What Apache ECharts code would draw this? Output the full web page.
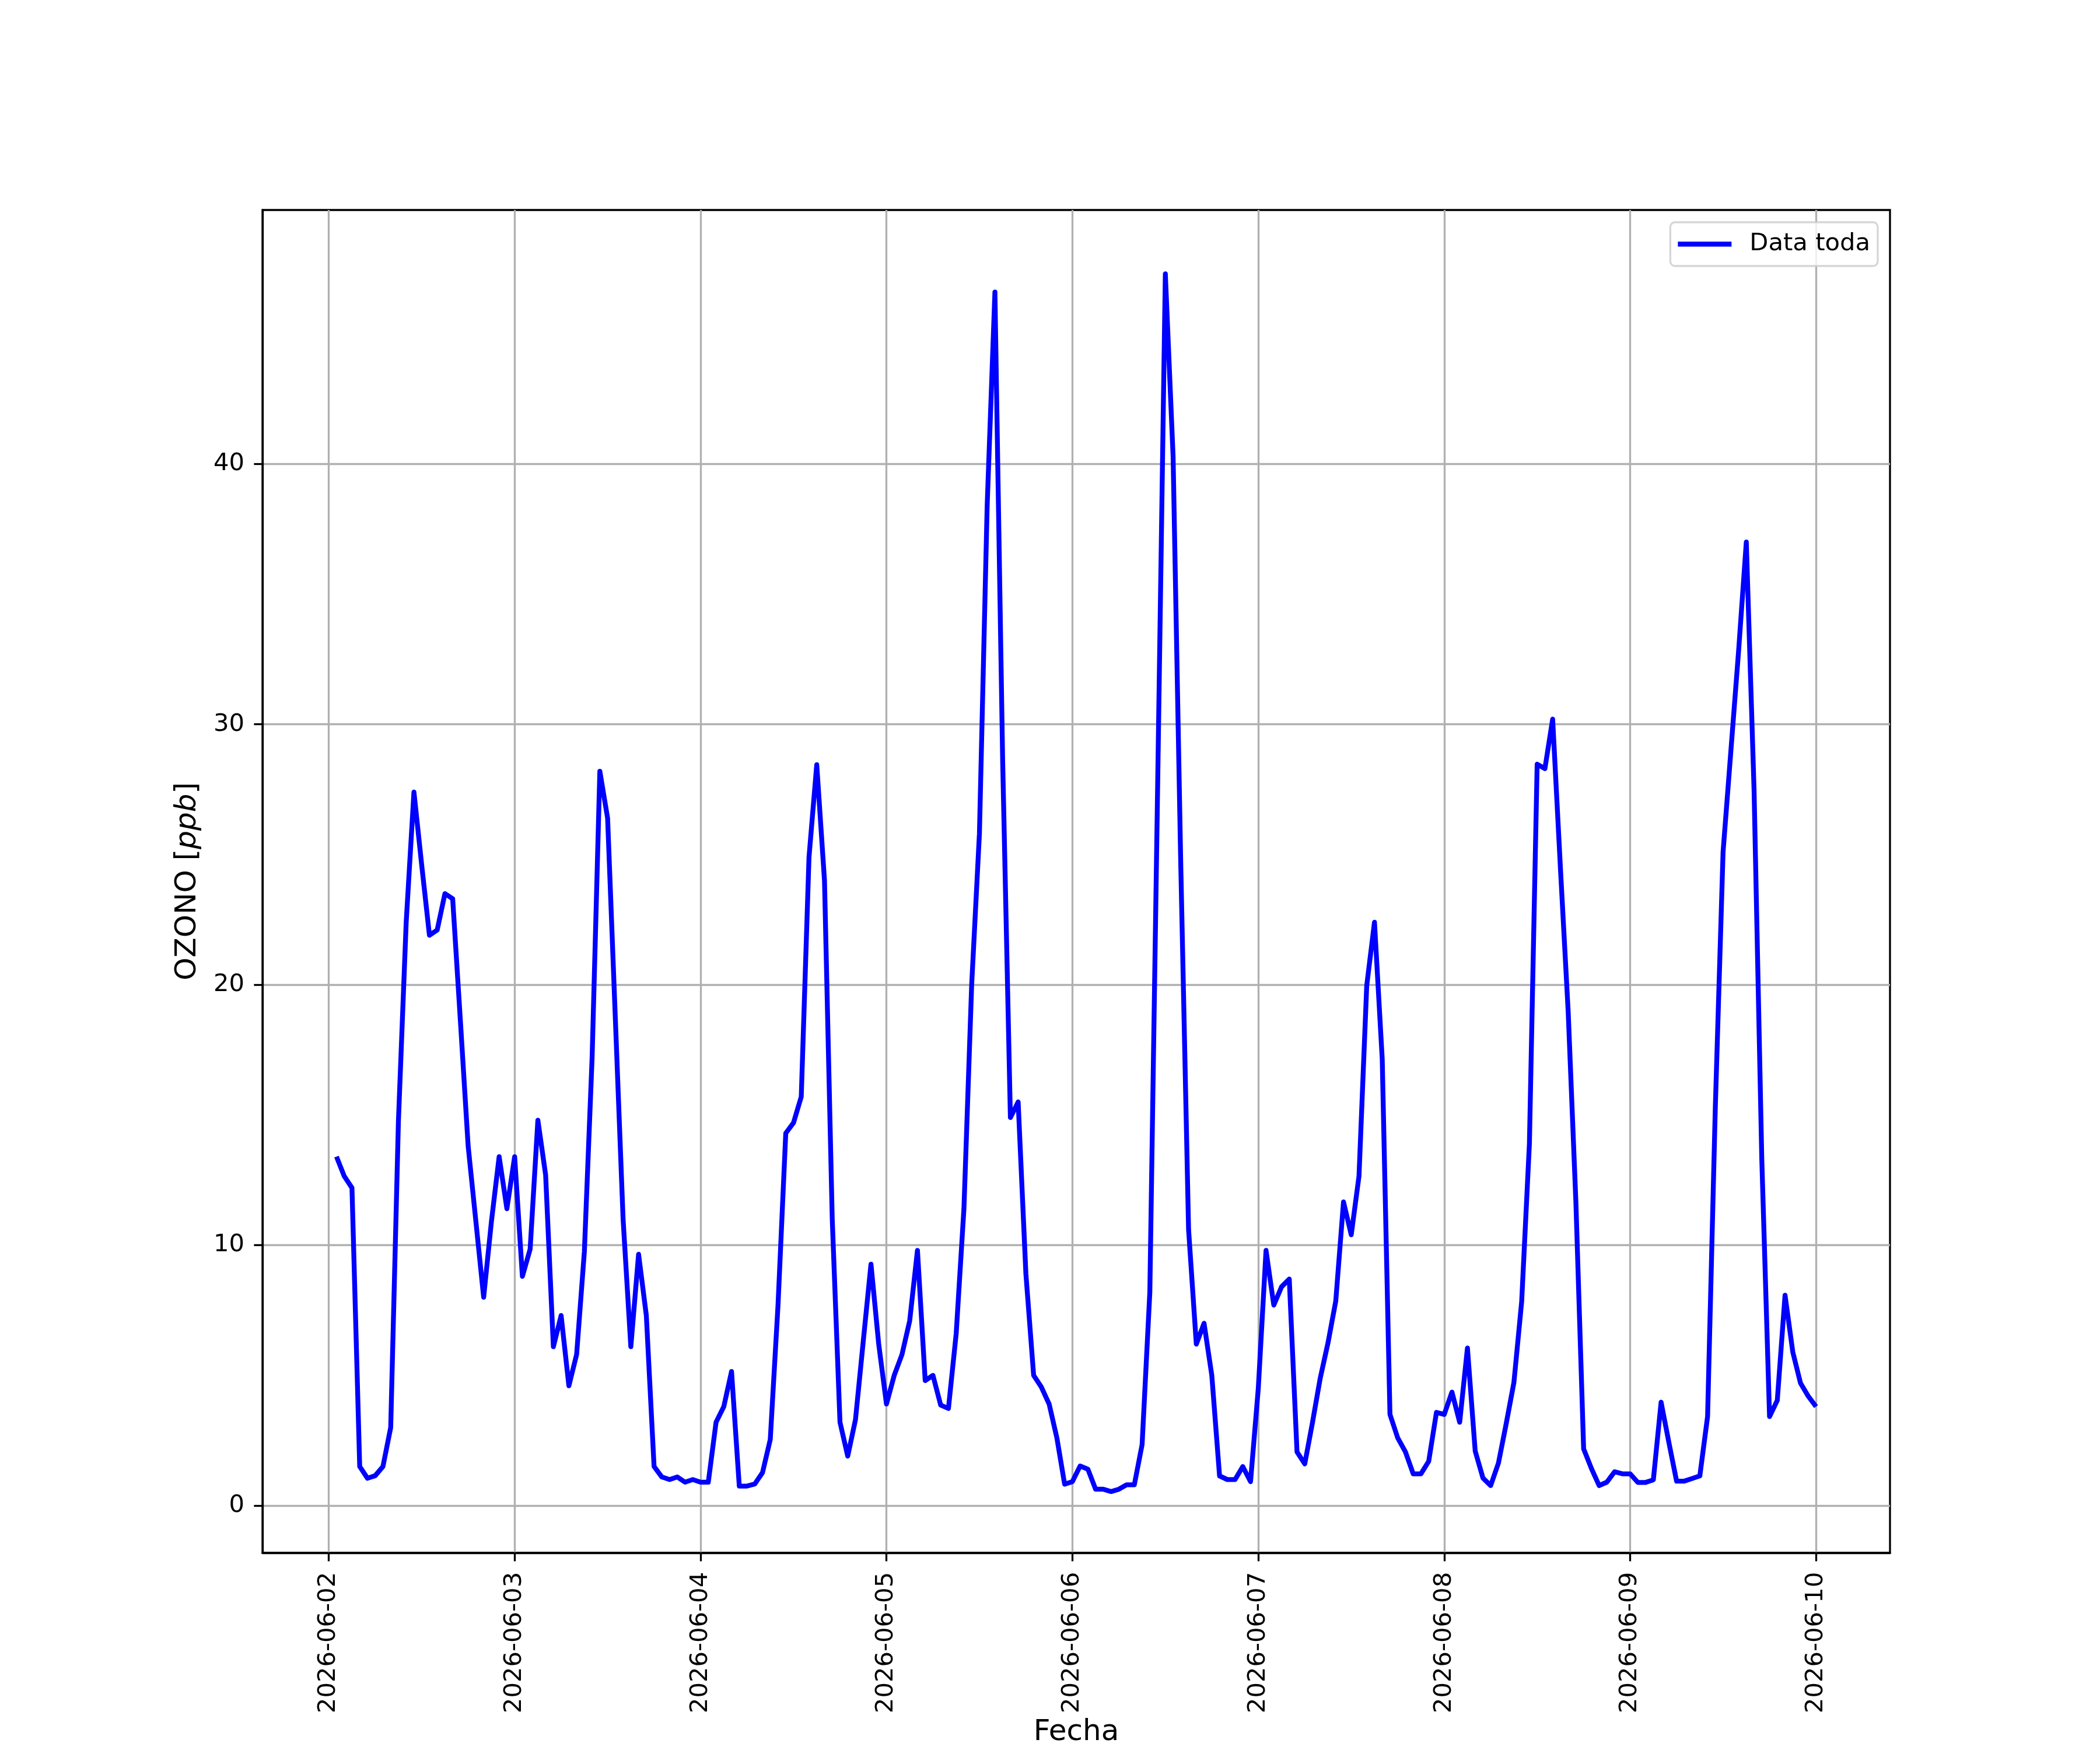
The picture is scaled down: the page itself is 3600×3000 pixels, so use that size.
<!DOCTYPE html>
<html>
<head>
<meta charset="utf-8">
<script src="https://cdn.jsdelivr.net/npm/echarts@6/dist/echarts.min.js"></script>
<style>html,body{margin:0;padding:0;background:#fff}#c{width:3600px;height:3000px}</style>
</head>
<body>
<div id="c"></div>
<script>
// Tick labels and positions (hours after 2026-06-02 00:00)
const dayLabels = ['2026-06-02','2026-06-03','2026-06-04','2026-06-05','2026-06-06','2026-06-07','2026-06-08','2026-06-09','2026-06-10'];
const dayTicks = [0, 24, 48, 72, 96, 120, 144, 168, 192];
const yTicks = [0, 10, 20, 30, 40];
const seriesName = 'Data toda';

// Hourly ozone values (ppb), from 2026-06-02 01:00 to 2026-06-10 00:00
const day1 = [13.4, 12.65, 12.2, 1.5, 1.05, 1.15, 1.5, 3.0, 14.8, 22.4, 27.4, 24.6, 21.9, 22.1, 23.5, 23.3, 18.6, 13.8, 10.9, 8.0, 10.9, 13.4, 11.4, 13.4];
const day2 = [8.8, 9.85, 14.8, 12.7, 6.1, 7.3, 4.6, 5.8, 9.75, 17.2, 28.2, 26.4, 18.7, 11.0, 6.1, 9.65, 7.3, 1.5, 1.1, 1.0, 1.1, 0.9, 1.0, 0.9];
const day3 = [0.9, 3.2, 3.8, 5.15, 0.75, 0.75, 0.83, 1.27, 2.54, 7.7, 14.3, 14.7, 15.7, 24.9, 28.45, 24.0, 11.0, 3.2, 1.9, 3.3, 6.3, 9.27, 6.2, 3.9];
const day4 = [5.0, 5.8, 7.1, 9.8, 4.8, 5.0, 3.86, 3.73, 6.6, 11.4, 20.0, 25.8, 38.4, 46.6, 28.6, 14.9, 15.5, 8.9, 5.0, 4.55, 3.9, 2.6, 0.82, 0.92];
const day5 = [1.52, 1.4, 0.63, 0.63, 0.54, 0.63, 0.8, 0.8, 2.34, 8.2, 27.5, 47.3, 40.3, 24.5, 10.6, 6.2, 7.0, 5.0, 1.14, 1.0, 1.0, 1.5, 0.92, 4.5];
const day6 = [9.8, 7.7, 8.4, 8.7, 2.06, 1.6, 3.2, 4.9, 6.25, 7.85, 11.66, 10.4, 12.65, 19.97, 22.4, 17.15, 3.5, 2.6, 2.06, 1.22, 1.22, 1.7, 3.58, 3.5];
const day7 = [4.36, 3.2, 6.05, 2.1, 1.06, 0.77, 1.63, 3.14, 4.73, 7.83, 13.9, 28.47, 28.3, 30.2, 24.5, 19.0, 11.66, 2.18, 1.43, 0.77, 0.9, 1.3, 1.22, 1.22];
const day8 = [0.89, 0.89, 0.99, 3.97, 2.43, 0.94, 0.94, 1.04, 1.14, 3.42, 15.3, 25.1, 28.95, 32.8, 37.0, 27.5, 13.3, 3.42, 4.04, 8.08, 5.9, 4.7, 4.2, 3.8];

const ozone = [].concat(day1, day2, day3, day4, day5, day6, day7, day8);
const firstHour = 1;
const points = ozone.map((v, i) => [firstHour + i, v]);

const font = 'DejaVu Sans';
const chart = echarts.init(document.getElementById('c'), null, {renderer: 'canvas', width: 3600, height: 3000});

const option = {
  animation: false,
  backgroundColor: '#ffffff',
  grid: {left: 450, right: 360, top: 360, bottom: 330, show: true, borderColor: '#000', borderWidth: 3.3, backgroundColor: 'transparent'},
  legend: {
    show: true, right: 381, top: 381, orient: 'vertical',
    icon: 'rect', itemWidth: 92, itemHeight: 8.33,
    padding: [12.5, 13, 12.5, 13],
    backgroundColor: 'rgba(255,255,255,0.8)',
    borderColor: 'rgba(204,204,204,0.8)', borderWidth: 3.3, borderRadius: 8,
    textStyle: {fontFamily: font, fontSize: 41.7, color: '#000', lineHeight: 50, padding: [0, 0, 0, 26]},
    data: [{name: seriesName, icon: 'rect', itemStyle: {color: '#0000ff'}}]
  },
  xAxis: {
    type: 'value', min: -8.55, max: 201.55,
    name: 'Fecha', nameLocation: 'middle', nameGap: 282,
    nameTextStyle: {fontFamily: font, fontSize: 50, color: '#000', lineHeight: 50},
    axisLine: {show: true, onZero: false, lineStyle: {color: '#000', width: 3.3}},
    axisTick: {show: true, customValues: dayTicks, length: 14.6, lineStyle: {color: '#000', width: 3.3}},
    axisLabel: {show: true, customValues: dayTicks, rotate: 90, margin: 33, fontFamily: font, fontSize: 41.7, color: '#000',
      formatter: v => dayLabels[Math.round(v / 24)]},
    splitLine: {show: true, lineStyle: {color: '#b0b0b0', width: 3.3}}
  },
  yAxis: {
    type: 'value', min: -1.81, max: 49.75,
    name: '{n|OZONO [}{i|ppb}{n|]}', nameLocation: 'middle', nameGap: 103,
    nameTextStyle: {fontFamily: font, fontSize: 50, color: '#000', lineHeight: 50,
      rich: {
        n: {fontFamily: font, fontSize: 50, color: '#000', lineHeight: 50},
        i: {fontFamily: font, fontSize: 50, fontStyle: 'italic', color: '#000', lineHeight: 50}
      }},
    axisLine: {show: true, onZero: false, lineStyle: {color: '#000', width: 3.3}},
    axisTick: {show: true, customValues: yTicks, length: 14.6, lineStyle: {color: '#000', width: 3.3}},
    axisLabel: {show: true, customValues: yTicks, margin: 31, fontFamily: font, fontSize: 41.7, color: '#000'},
    splitLine: {show: true, lineStyle: {color: '#b0b0b0', width: 3.3}}
  },
  series: [{
    type: 'line', name: seriesName, data: points,
    showSymbol: false, symbol: 'none', clip: true,
    lineStyle: {color: '#0000ff', width: 8.33, join: 'round'},
    itemStyle: {color: '#0000ff'}
  }]
};
chart.setOption(option);
</script>
</body>
</html>
